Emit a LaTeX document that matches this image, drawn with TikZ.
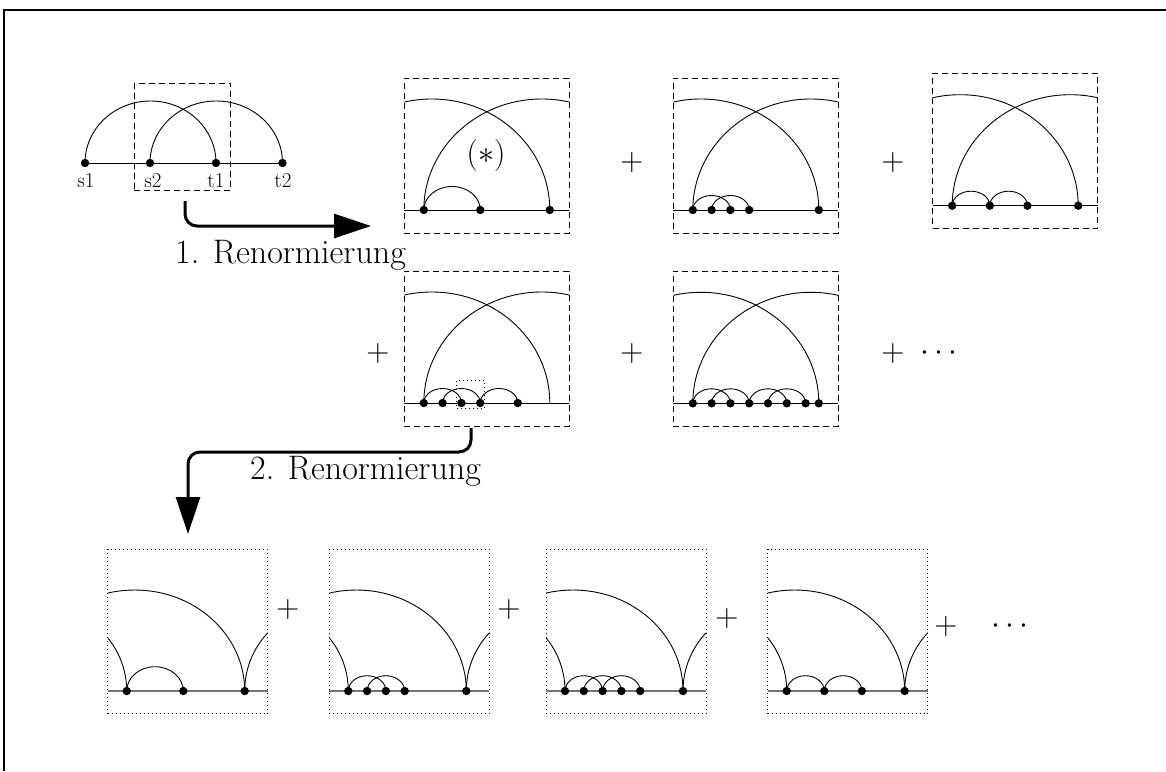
\RequirePackage{fix-cm}
\documentclass[tikz,border=0pt]{standalone}
\usetikzlibrary{arrows.meta}
\newcommand{\TopBox}[4]{%
  \node[dbox, anchor=north west, minimum width=165pt, minimum height=155pt] (#1) at (#2,#3) {};
  \begin{scope}
    \clip (#1.north west) rectangle (#1.south east);
    \draw[thinl] (#2+145.5,#4) arc[start angle=0,end angle=180,x radius=118pt,y radius=111pt];
    \draw[thinl] (#2+19.5,#4) arc[start angle=180,end angle=0,x radius=118pt,y radius=111pt];
  \end{scope}
  \draw[thinl] (#2,#4) -- (#2+165,#4);
}
\newcommand{\BotBox}[3]{%
  \node[obox, anchor=north west, minimum width=160pt, minimum height=164.5pt] (#1) at (#2,549.3) {};
  \begin{scope}
    \clip (#1.north west) rectangle (#1.south east);
    \draw[thinl] (#2+137,#3) arc[start angle=0,end angle=180,x radius=110pt,y radius=101pt];
    \draw[thinl] (#2+19,#3) arc[start angle=0,end angle=90,radius=84pt];
    \draw[thinl] (#2+137,#3) arc[start angle=180,end angle=90,radius=85pt];
  \end{scope}
  \draw[line width=1.3pt, black!55] (#2,#3) -- (#2+160,#3);
}
\newcommand{\Dt}[2]{\fill (#1,#2) circle (4.2pt);}
\newcommand{\SArc}[4]{\draw[thinl] (#1,#2) arc[start angle=180,end angle=0,x radius=#3pt,y radius=#4pt];}
\begin{document}
\begin{tikzpicture}[x=1pt,y=-1pt,
  thinl/.style={line width=0.9pt},
  dbox/.style={draw, dash pattern=on 6pt off 4pt, line width=0.8pt, inner sep=0pt, outer sep=0pt},
  obox/.style={draw, dash pattern=on 1pt off 3pt, line width=0.9pt, inner sep=0pt, outer sep=0pt},
  bigarrow/.style={line width=3pt, rounded corners=12pt, -{Triangle[length=37pt,width=24pt]}},
  lab/.style={font=\fontsize{32}{38}\selectfont, inner sep=0pt},
  rlab/.style={font=\fontsize{34}{40}\selectfont, inner sep=0pt},
  small/.style={font=\fontsize{21}{24}\selectfont, inner sep=0pt},
  ]
\useasboundingbox (0,0) rectangle (1166,771);
% frame
\draw[line width=2.5pt] (4,771) -- (4,10) -- (1166,10);

% top-left diagram
\coordinate (s1) at (85,163);
\coordinate (s2) at (150,163);
\coordinate (t1) at (216,163);
\coordinate (t2) at (282.5,163);
\draw[thinl] (s1) -- (t2);
\draw[thinl] (s1) arc[start angle=180,end angle=0,x radius=65.5pt,y radius=62pt];
\draw[thinl] (s2) arc[start angle=180,end angle=0,x radius=66.25pt,y radius=62pt];
\foreach \p in {s1,s2,t1,t2} {\fill (\p) circle (4.2pt);}
\node[small] (ls1) at (86,181) {s1};
\node[small] (ls2) at (153,181) {s2};
\node[small] (lt1) at (216,181) {t1};
\node[small] (lt2) at (283,181) {t2};
\node[dbox, minimum width=96.7pt, minimum height=107.4pt] (tlbox) at (182.35,137) {};

% arrow 1
\coordinate (a1s) at (185,201);
\coordinate (a1e) at (371,226);
\draw[bigarrow] (a1s) |- (a1e);
\node[rlab, anchor=base west] (r1) at (175,263) {1. Renormierung};

% top row boxes
\TopBox{b1}{404.3}{78.3}{210}
\SArc{423.8}{210}{28.25}{23.5}
\Dt{423.8}{210}\Dt{480.3}{210}\Dt{549.8}{210}
\node[lab] (star) at (486,155) {$(\ast)$};

\node[lab] (p1) at (632,162) {$+$};

\TopBox{b2}{673.3}{78.3}{210}
\SArc{692.8}{210}{18.8}{14.5}\SArc{711.6}{210}{18.8}{14.5}
\Dt{692.8}{210}\Dt{711.6}{210}\Dt{730.4}{210}\Dt{749.2}{210}\Dt{818.8}{210}

\node[lab] (p2) at (893,162) {$+$};

\TopBox{b3}{932.7}{73.3}{205.7}
\SArc{952.2}{205.7}{18.8}{14.5}\SArc{989.8}{205.7}{18.8}{14.5}
\Dt{952.2}{205.7}\Dt{989.8}{205.7}\Dt{1027.4}{205.7}\Dt{1078.2}{205.7}

% second row
\node[lab] (p3) at (378,353) {$+$};
\TopBox{b4}{404.3}{271}{403}
\SArc{423.8}{403}{18.8}{14.5}\SArc{442.6}{403}{18.8}{14.5}\SArc{480.2}{403}{18.8}{14.5}
\Dt{423.8}{403}\Dt{442.6}{403}\Dt{461.4}{403}\Dt{480.2}{403}\Dt{517.8}{403}
\node[obox, anchor=north west, minimum width=27.6pt, minimum height=28.3pt] (zoomsel) at (456.7,380) {};

\node[lab] (p4) at (632,353) {$+$};
\TopBox{b5}{673.3}{271}{403.3}
\SArc{692.8}{403.3}{18.8}{14.5}\SArc{711.6}{403.3}{18.8}{14.5}
\SArc{749.2}{403.3}{18.8}{14.5}\SArc{768}{403.3}{18.8}{14.5}
\foreach \x in {692.8,711.6,730.4,749.2,768,786.8,805.6,818.8} {\Dt{\x}{403.3}}

\node[lab] (p5) at (893,353) {$+$};
\node[lab] (c1) at (939,353) {$\cdots$};

% arrow 2
\coordinate (a2s) at (471,428);
\coordinate (a2m) at (471,452);
\coordinate (a2n) at (188,452);
\coordinate (a2e) at (188,534);
\draw[bigarrow] (a2s) -- (a2m) -- (a2n) -- (a2e);
\node[rlab, anchor=base west] (r2) at (250,479) {2. Renormierung};

% bottom row
\BotBox{c1box}{107.7}{691}
\SArc{126.7}{691}{28.3}{24.3}
\Dt{126.7}{691}\Dt{183.3}{691}\Dt{244.7}{691}

\node[lab] (q1) at (288,609) {$+$};

\BotBox{c2box}{329.3}{691}
\SArc{348.3}{691}{18.8}{15.3}\SArc{367.1}{691}{18.8}{15.3}
\Dt{348.3}{691}\Dt{367.1}{691}\Dt{385.9}{691}\Dt{404.7}{691}\Dt{466.3}{691}

\node[lab] (q2) at (509,609) {$+$};

\BotBox{c3box}{546}{691}
\SArc{565}{691}{18.8}{15.3}\SArc{583.8}{691}{18.8}{15.3}\SArc{602.6}{691}{18.8}{15.3}
\Dt{565}{691}\Dt{583.8}{691}\Dt{602.6}{691}\Dt{621.4}{691}\Dt{640.2}{691}\Dt{683}{691}

\node[lab] (q3) at (727,618) {$+$};

\BotBox{c4box}{767.7}{691}
\SArc{786.7}{691}{18.8}{15.3}\SArc{824.3}{691}{18.8}{15.3}
\Dt{786.7}{691}\Dt{824.3}{691}\Dt{861.9}{691}\Dt{904.7}{691}

\node[lab] (q4) at (946,626) {$+$};
\node[lab] (c2) at (1010,626) {$\cdots$};
\end{tikzpicture}
\end{document}
